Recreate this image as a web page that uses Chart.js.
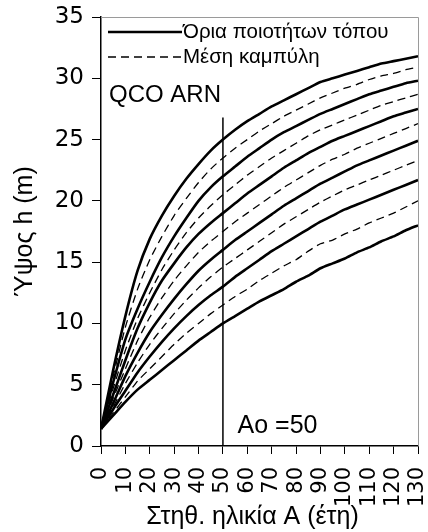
<!DOCTYPE html>
<html>
<head>
<meta charset="utf-8">
<script src="https://cdn.jsdelivr.net/npm/chart.js@4/dist/chart.umd.min.js"></script>
<style>
  html, body { margin: 0; padding: 0; background: #fff; }
  #wrap { width: 428px; height: 532px; }
</style>
</head>
<body>
<div id="wrap"><canvas id="chart" width="428" height="532"></canvas></div>
<script>
// Age (years), every 5 years
const ages = [0, 5, 10, 15, 20, 25, 30, 35, 40, 45, 50, 55, 60, 65, 70, 75, 80, 85, 90, 95, 100, 105, 110, 115, 120, 125, 130];

// Site class limits (solid), top to bottom
const limit1 = [1.4, 6.2, 10.6, 14.3, 16.9, 18.8, 20.4, 21.8, 23.0, 24.1, 25.0, 25.8, 26.5, 27.1, 27.7, 28.2, 28.7, 29.2, 29.7, 30.0, 30.3, 30.6, 30.9, 31.2, 31.4, 31.6, 31.8];
const limit2 = [1.4, 5.2, 8.7, 11.2, 13.4, 15.4, 17.1, 18.6, 20.0, 21.1, 22.0, 22.8, 23.6, 24.3, 25.0, 25.6, 26.1, 26.6, 27.1, 27.5, 27.9, 28.3, 28.7, 29.0, 29.3, 29.6, 29.8];
const limit3 = [1.4, 4.2, 7.0, 9.6, 11.7, 13.5, 14.9, 16.2, 17.3, 18.2, 19.0, 19.8, 20.6, 21.3, 22.0, 22.7, 23.3, 23.9, 24.4, 24.9, 25.3, 25.7, 26.1, 26.5, 26.9, 27.2, 27.5];
const limit4 = [1.4, 3.5, 5.7, 7.6, 9.3, 10.7, 12.0, 13.2, 14.3, 15.2, 16.0, 16.8, 17.5, 18.2, 18.9, 19.6, 20.2, 20.8, 21.4, 21.9, 22.4, 22.9, 23.3, 23.7, 24.1, 24.5, 24.9];
const limit5 = [1.4, 3.0, 4.5, 6.0, 7.3, 8.5, 9.6, 10.6, 11.5, 12.3, 13.0, 13.8, 14.5, 15.2, 15.9, 16.5, 17.1, 17.7, 18.3, 18.8, 19.3, 19.7, 20.1, 20.5, 20.9, 21.3, 21.7];
const limit6 = [1.4, 2.5, 3.6, 4.6, 5.4, 6.2, 7.0, 7.8, 8.6, 9.3, 10.0, 10.6, 11.2, 11.8, 12.3, 12.8, 13.4, 13.9, 14.5, 14.9, 15.3, 15.8, 16.2, 16.7, 17.1, 17.6, 18.0];

// Mean curves (dashed), top to bottom
const mean1 = [1.4, 5.7, 9.7, 12.8, 15.2, 17.1, 18.8, 20.2, 21.5, 22.6, 23.5, 24.3, 25.0, 25.7, 26.3, 26.9, 27.4, 27.9, 28.4, 28.8, 29.2, 29.5, 29.9, 30.2, 30.4, 30.7, 30.9];
const mean2 = [1.4, 4.7, 7.8, 10.4, 12.5, 14.4, 16.0, 17.4, 18.6, 19.6, 20.5, 21.3, 22.1, 22.8, 23.5, 24.1, 24.7, 25.3, 25.8, 26.2, 26.6, 27.0, 27.4, 27.8, 28.1, 28.4, 28.7];
const mean3 = [1.4, 3.9, 6.3, 8.6, 10.5, 12.1, 13.5, 14.7, 15.8, 16.7, 17.5, 18.3, 19.0, 19.7, 20.4, 21.1, 21.7, 22.3, 22.9, 23.4, 23.8, 24.3, 24.7, 25.1, 25.5, 25.9, 26.3];
const mean4 = [1.4, 3.2, 5.1, 6.8, 8.3, 9.6, 10.8, 11.9, 12.9, 13.8, 14.6, 15.3, 16.0, 16.7, 17.4, 18.1, 18.7, 19.3, 19.9, 20.4, 20.9, 21.3, 21.7, 22.1, 22.5, 22.9, 23.3];
const mean5 = [1.4, 2.7, 4.0, 5.3, 6.3, 7.3, 8.3, 9.2, 10.0, 10.8, 11.5, 12.2, 12.8, 13.5, 14.1, 14.7, 15.2, 15.9, 16.5, 16.8, 17.3, 17.7, 18.2, 18.6, 19.0, 19.5, 20.0];

// Reference age line Ao = 50
const refAge = [50, 50];
const refHeight = [0, 26.8];

const FONT = '"Liberation Sans", Arial, sans-serif';
const TICK_FONT = '"DejaVu Sans", Verdana, sans-serif';

function toPoints(ys) {
    return ages.map((a, i) => ({ x: a, y: ys[i] }));
}

function solid(ys) {
    return { data: toPoints(ys), borderColor: '#000', borderWidth: 2.6, pointRadius: 0, tension: 0.2, fill: false };
}

function dashed(ys) {
    return { data: toPoints(ys), borderColor: '#000', borderWidth: 1.3, borderDash: [8, 5], pointRadius: 0, tension: 0.2, fill: false };
}

// Legend, labels and the grey top/right frame
const overlay = {
    id: 'overlay',
    afterDraw(chart) {
        const { ctx, chartArea: a, scales: { x, y } } = chart;
        ctx.save();
        ctx.strokeStyle = '#9a9a9a';
        ctx.lineWidth = 1;
        ctx.beginPath();
        ctx.moveTo(a.left, a.top + 0.5);
        ctx.lineTo(a.right + 0.5, a.top + 0.5);
        ctx.lineTo(a.right + 0.5, a.bottom);
        ctx.stroke();

        // legend
        ctx.strokeStyle = '#000';
        ctx.lineWidth = 2.6;
        ctx.beginPath();
        ctx.moveTo(a.left + 7, a.top + 15);
        ctx.lineTo(a.left + 81, a.top + 15);
        ctx.stroke();
        ctx.lineWidth = 1.3;
        ctx.setLineDash([8, 5]);
        ctx.beginPath();
        ctx.moveTo(a.left + 7, a.top + 40);
        ctx.lineTo(a.left + 81, a.top + 40);
        ctx.stroke();
        ctx.setLineDash([]);

        ctx.fillStyle = '#000';
        ctx.textBaseline = 'middle';
        ctx.textAlign = 'left';
        ctx.font = '20.5px ' + FONT;
        ctx.fillText('Όρια ποιοτήτων τόπου', a.left + 82, a.top + 15);
        ctx.fillText('Μέση καμπύλη', a.left + 82, a.top + 40);

        ctx.textBaseline = 'alphabetic';
        ctx.font = '24px ' + FONT;
        ctx.fillText('QCO ARN', a.left + 8, a.top + 85);
        ctx.font = '25px ' + FONT;
        ctx.fillText('Ao =50', x.getPixelForValue(56), y.getPixelForValue(1.1));

        // axis title, a little left of the plot centre as in the original
        ctx.textAlign = 'center';
        ctx.textBaseline = 'middle';
        ctx.fillText('Στηθ. ηλικία Α (έτη)', (a.left + a.right) / 2 - 7, 517);
        ctx.restore();
    }
};

const datasets = [
    solid(limit1), dashed(mean1),
    solid(limit2), dashed(mean2),
    solid(limit3), dashed(mean3),
    solid(limit4), dashed(mean4),
    solid(limit5), dashed(mean5),
    solid(limit6),
    {
        data: refAge.map((a, i) => ({ x: a, y: refHeight[i] })),
        borderColor: '#000', borderWidth: 1.5, pointRadius: 0, fill: false
    }
];

new Chart(document.getElementById('chart'), {
    type: 'line',
    data: { datasets },
    options: {
        responsive: false,
        animation: false,
        layout: { padding: { left: 0, top: 17, right: 10, bottom: 0 } },
        plugins: { legend: { display: false }, tooltip: { enabled: false } },
        scales: {
            x: {
                type: 'linear',
                min: 0,
                max: 130,
                afterFit: s => { s.height = 86; s.paddingLeft = 0; s.paddingRight = 0; },
                grid: { drawOnChartArea: false, drawTicks: true, tickLength: 8, color: '#000' },
                border: { display: true, color: '#000', width: 1.5 },
                ticks: {
                    stepSize: 10,
                    autoSkip: false,
                    minRotation: 90,
                    maxRotation: 90,
                    padding: 13,
                    color: '#000',
                    font: { family: TICK_FONT, size: 21 }
                }
            },
            y: {
                min: 0,
                max: 35,
                afterFit: s => { s.width = 101; s.paddingTop = 0; s.paddingBottom = 0; },
                grid: { drawOnChartArea: false, drawTicks: true, tickLength: 9, color: '#000' },
                border: { display: true, color: '#000', width: 1.5 },
                ticks: {
                    stepSize: 5,
                    padding: 8,
                    color: '#000',
                    font: { family: TICK_FONT, size: 23 }
                },
                title: {
                    display: true,
                    text: 'Ύψος h (m)',
                    color: '#000',
                    font: { family: FONT, size: 25 },
                    padding: { top: 10, bottom: 0 }
                }
            }
        }
    },
    plugins: [overlay]
});
</script>
</body>
</html>
